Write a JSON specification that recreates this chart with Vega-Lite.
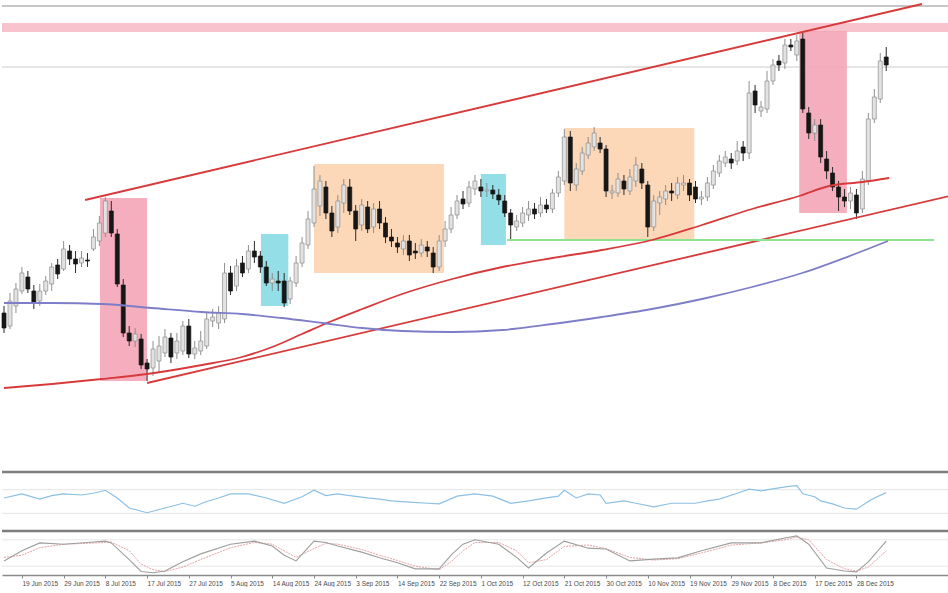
{
  "$schema": "https://vega.github.io/schema/vega-lite/v6.json",
  "padding": 0,
  "spacing": 0,
  "bounds": "flush",
  "background": "white",
  "config": {"view": {"stroke": null}, "font": "Liberation Sans", "scale": {"continuousPadding": 0}},
  "datasets": {
    "candles": [
      {"i":0,"o":4.688,"h":4.695,"l":4.668,"c":4.673},
      {"i":1,"o":4.675,"h":4.708,"l":4.672,"c":4.700},
      {"i":2,"o":4.695,"h":4.718,"l":4.688,"c":4.712},
      {"i":3,"o":4.710,"h":4.734,"l":4.707,"c":4.728},
      {"i":4,"o":4.724,"h":4.730,"l":4.708,"c":4.712},
      {"i":5,"o":4.710,"h":4.716,"l":4.692,"c":4.698},
      {"i":6,"o":4.700,"h":4.717,"l":4.695,"c":4.710},
      {"i":7,"o":4.710,"h":4.725,"l":4.706,"c":4.720},
      {"i":8,"o":4.717,"h":4.738,"l":4.710,"c":4.734},
      {"i":9,"o":4.736,"h":4.742,"l":4.722,"c":4.727},
      {"i":10,"o":4.732,"h":4.760,"l":4.730,"c":4.752},
      {"i":11,"o":4.750,"h":4.756,"l":4.736,"c":4.742},
      {"i":12,"o":4.742,"h":4.750,"l":4.728,"c":4.737},
      {"i":13,"o":4.738,"h":4.750,"l":4.734,"c":4.743},
      {"i":14,"o":4.741,"h":4.748,"l":4.734,"c":4.740},
      {"i":15,"o":4.752,"h":4.772,"l":4.750,"c":4.764},
      {"i":16,"o":4.760,"h":4.785,"l":4.755,"c":4.778},
      {"i":17,"o":4.768,"h":4.804,"l":4.764,"c":4.800},
      {"i":18,"o":4.790,"h":4.800,"l":4.764,"c":4.768},
      {"i":19,"o":4.767,"h":4.772,"l":4.714,"c":4.717},
      {"i":20,"o":4.716,"h":4.722,"l":4.664,"c":4.668},
      {"i":21,"o":4.668,"h":4.675,"l":4.655,"c":4.660},
      {"i":22,"o":4.660,"h":4.673,"l":4.654,"c":4.667},
      {"i":23,"o":4.662,"h":4.667,"l":4.632,"c":4.636},
      {"i":24,"o":4.638,"h":4.642,"l":4.620,"c":4.632},
      {"i":25,"o":4.633,"h":4.660,"l":4.625,"c":4.652},
      {"i":26,"o":4.640,"h":4.665,"l":4.628,"c":4.655},
      {"i":27,"o":4.648,"h":4.672,"l":4.644,"c":4.664},
      {"i":28,"o":4.663,"h":4.668,"l":4.638,"c":4.644},
      {"i":29,"o":4.648,"h":4.668,"l":4.642,"c":4.660},
      {"i":30,"o":4.650,"h":4.680,"l":4.646,"c":4.675},
      {"i":31,"o":4.675,"h":4.682,"l":4.643,"c":4.647},
      {"i":32,"o":4.647,"h":4.660,"l":4.642,"c":4.653},
      {"i":33,"o":4.650,"h":4.670,"l":4.646,"c":4.660},
      {"i":34,"o":4.655,"h":4.688,"l":4.652,"c":4.682},
      {"i":35,"o":4.680,"h":4.692,"l":4.674,"c":4.684},
      {"i":36,"o":4.678,"h":4.695,"l":4.672,"c":4.688},
      {"i":37,"o":4.682,"h":4.738,"l":4.678,"c":4.728},
      {"i":38,"o":4.728,"h":4.735,"l":4.706,"c":4.710},
      {"i":39,"o":4.715,"h":4.742,"l":4.710,"c":4.735},
      {"i":40,"o":4.738,"h":4.745,"l":4.724,"c":4.728},
      {"i":41,"o":4.732,"h":4.756,"l":4.728,"c":4.750},
      {"i":42,"o":4.750,"h":4.760,"l":4.738,"c":4.744},
      {"i":43,"o":4.745,"h":4.750,"l":4.728,"c":4.734},
      {"i":44,"o":4.734,"h":4.740,"l":4.715,"c":4.718},
      {"i":45,"o":4.718,"h":4.728,"l":4.710,"c":4.722},
      {"i":46,"o":4.720,"h":4.730,"l":4.710,"c":4.718},
      {"i":47,"o":4.720,"h":4.728,"l":4.694,"c":4.698},
      {"i":48,"o":4.702,"h":4.724,"l":4.697,"c":4.720},
      {"i":49,"o":4.718,"h":4.745,"l":4.714,"c":4.738},
      {"i":50,"o":4.738,"h":4.764,"l":4.734,"c":4.758},
      {"i":51,"o":4.756,"h":4.790,"l":4.752,"c":4.782},
      {"i":52,"o":4.778,"h":4.835,"l":4.774,"c":4.812},
      {"i":53,"o":4.795,"h":4.826,"l":4.785,"c":4.820},
      {"i":54,"o":4.814,"h":4.820,"l":4.782,"c":4.788},
      {"i":55,"o":4.788,"h":4.795,"l":4.764,"c":4.770},
      {"i":56,"o":4.774,"h":4.806,"l":4.768,"c":4.800},
      {"i":57,"o":4.798,"h":4.822,"l":4.788,"c":4.816},
      {"i":58,"o":4.814,"h":4.822,"l":4.786,"c":4.790},
      {"i":59,"o":4.790,"h":4.796,"l":4.760,"c":4.772},
      {"i":60,"o":4.776,"h":4.802,"l":4.770,"c":4.796},
      {"i":61,"o":4.794,"h":4.800,"l":4.768,"c":4.772},
      {"i":62,"o":4.774,"h":4.798,"l":4.768,"c":4.792},
      {"i":63,"o":4.792,"h":4.800,"l":4.772,"c":4.778},
      {"i":64,"o":4.778,"h":4.784,"l":4.758,"c":4.764},
      {"i":65,"o":4.764,"h":4.772,"l":4.754,"c":4.760},
      {"i":66,"o":4.758,"h":4.764,"l":4.748,"c":4.754},
      {"i":67,"o":4.752,"h":4.766,"l":4.746,"c":4.760},
      {"i":68,"o":4.760,"h":4.766,"l":4.740,"c":4.746},
      {"i":69,"o":4.750,"h":4.758,"l":4.742,"c":4.748},
      {"i":70,"o":4.748,"h":4.762,"l":4.744,"c":4.756},
      {"i":71,"o":4.754,"h":4.760,"l":4.744,"c":4.750},
      {"i":72,"o":4.748,"h":4.754,"l":4.728,"c":4.734},
      {"i":73,"o":4.734,"h":4.766,"l":4.730,"c":4.760},
      {"i":74,"o":4.760,"h":4.780,"l":4.754,"c":4.772},
      {"i":75,"o":4.772,"h":4.794,"l":4.768,"c":4.786},
      {"i":76,"o":4.786,"h":4.806,"l":4.782,"c":4.800},
      {"i":77,"o":4.802,"h":4.810,"l":4.792,"c":4.797},
      {"i":78,"o":4.798,"h":4.820,"l":4.794,"c":4.814},
      {"i":79,"o":4.812,"h":4.826,"l":4.806,"c":4.820},
      {"i":80,"o":4.814,"h":4.822,"l":4.804,"c":4.810},
      {"i":81,"o":4.810,"h":4.818,"l":4.804,"c":4.811},
      {"i":82,"o":4.811,"h":4.816,"l":4.802,"c":4.807},
      {"i":83,"o":4.806,"h":4.812,"l":4.796,"c":4.801},
      {"i":84,"o":4.800,"h":4.806,"l":4.784,"c":4.788},
      {"i":85,"o":4.788,"h":4.792,"l":4.762,"c":4.776},
      {"i":86,"o":4.774,"h":4.786,"l":4.770,"c":4.780},
      {"i":87,"o":4.778,"h":4.794,"l":4.774,"c":4.788},
      {"i":88,"o":4.786,"h":4.800,"l":4.780,"c":4.792},
      {"i":89,"o":4.792,"h":4.798,"l":4.782,"c":4.787},
      {"i":90,"o":4.788,"h":4.804,"l":4.784,"c":4.796},
      {"i":91,"o":4.796,"h":4.802,"l":4.788,"c":4.792},
      {"i":92,"o":4.792,"h":4.812,"l":4.788,"c":4.808},
      {"i":93,"o":4.808,"h":4.830,"l":4.804,"c":4.824},
      {"i":94,"o":4.820,"h":4.872,"l":4.816,"c":4.864},
      {"i":95,"o":4.864,"h":4.870,"l":4.810,"c":4.818},
      {"i":96,"o":4.816,"h":4.838,"l":4.810,"c":4.832},
      {"i":97,"o":4.830,"h":4.854,"l":4.826,"c":4.848},
      {"i":98,"o":4.846,"h":4.864,"l":4.842,"c":4.858},
      {"i":99,"o":4.854,"h":4.874,"l":4.850,"c":4.868},
      {"i":100,"o":4.858,"h":4.864,"l":4.848,"c":4.852},
      {"i":101,"o":4.852,"h":4.856,"l":4.804,"c":4.810},
      {"i":102,"o":4.808,"h":4.816,"l":4.802,"c":4.810},
      {"i":103,"o":4.808,"h":4.828,"l":4.804,"c":4.822},
      {"i":104,"o":4.820,"h":4.826,"l":4.806,"c":4.812},
      {"i":105,"o":4.810,"h":4.832,"l":4.806,"c":4.824},
      {"i":106,"o":4.820,"h":4.844,"l":4.814,"c":4.836},
      {"i":107,"o":4.832,"h":4.838,"l":4.812,"c":4.818},
      {"i":108,"o":4.816,"h":4.820,"l":4.764,"c":4.774},
      {"i":109,"o":4.774,"h":4.806,"l":4.770,"c":4.800},
      {"i":110,"o":4.798,"h":4.810,"l":4.786,"c":4.804},
      {"i":111,"o":4.802,"h":4.816,"l":4.796,"c":4.810},
      {"i":112,"o":4.810,"h":4.818,"l":4.800,"c":4.808},
      {"i":113,"o":4.806,"h":4.824,"l":4.802,"c":4.818},
      {"i":114,"o":4.816,"h":4.826,"l":4.810,"c":4.818},
      {"i":115,"o":4.818,"h":4.822,"l":4.800,"c":4.806},
      {"i":116,"o":4.814,"h":4.820,"l":4.798,"c":4.802},
      {"i":117,"o":4.802,"h":4.810,"l":4.796,"c":4.804},
      {"i":118,"o":4.804,"h":4.824,"l":4.800,"c":4.818},
      {"i":119,"o":4.816,"h":4.836,"l":4.812,"c":4.830},
      {"i":120,"o":4.828,"h":4.846,"l":4.824,"c":4.840},
      {"i":121,"o":4.838,"h":4.850,"l":4.834,"c":4.844},
      {"i":122,"o":4.842,"h":4.848,"l":4.832,"c":4.838},
      {"i":123,"o":4.840,"h":4.860,"l":4.836,"c":4.850},
      {"i":124,"o":4.854,"h":4.860,"l":4.840,"c":4.848},
      {"i":125,"o":4.848,"h":4.920,"l":4.842,"c":4.908},
      {"i":126,"o":4.910,"h":4.916,"l":4.888,"c":4.896},
      {"i":127,"o":4.890,"h":4.900,"l":4.884,"c":4.894},
      {"i":128,"o":4.892,"h":4.930,"l":4.888,"c":4.920},
      {"i":129,"o":4.920,"h":4.942,"l":4.916,"c":4.936},
      {"i":130,"o":4.940,"h":4.946,"l":4.930,"c":4.936},
      {"i":131,"o":4.938,"h":4.962,"l":4.932,"c":4.956},
      {"i":132,"o":4.956,"h":4.962,"l":4.950,"c":4.954},
      {"i":133,"o":4.946,"h":4.966,"l":4.940,"c":4.960},
      {"i":134,"o":4.962,"h":4.968,"l":4.888,"c":4.892},
      {"i":135,"o":4.888,"h":4.894,"l":4.862,"c":4.868},
      {"i":136,"o":4.868,"h":4.882,"l":4.860,"c":4.876},
      {"i":137,"o":4.876,"h":4.882,"l":4.838,"c":4.844},
      {"i":138,"o":4.842,"h":4.850,"l":4.822,"c":4.830},
      {"i":139,"o":4.828,"h":4.834,"l":4.810,"c":4.814},
      {"i":140,"o":4.814,"h":4.820,"l":4.790,"c":4.804},
      {"i":141,"o":4.804,"h":4.812,"l":4.794,"c":4.800},
      {"i":142,"o":4.800,"h":4.814,"l":4.792,"c":4.808},
      {"i":143,"o":4.806,"h":4.812,"l":4.782,"c":4.788},
      {"i":144,"o":4.792,"h":4.830,"l":4.788,"c":4.822},
      {"i":145,"o":4.820,"h":4.888,"l":4.816,"c":4.882},
      {"i":146,"o":4.882,"h":4.912,"l":4.878,"c":4.904},
      {"i":147,"o":4.902,"h":4.948,"l":4.898,"c":4.940},
      {"i":148,"o":4.944,"h":4.954,"l":4.930,"c":4.936}
    ],
    "bands": [{"top": 4.978, "bot": 4.969}],
    "hlines": [{"v": 4.995, "kind": "frame"}, {"v": 4.934, "kind": "level"}],
    "zones": [
      {"zone":"pink","x1":16.1,"x2":24.0,"top":4.803,"bot":4.620},
      {"zone":"pink","x1":133.4,"x2":141.4,"top":4.970,"bot":4.788},
      {"zone":"orange","x1":52.0,"x2":73.8,"top":4.837,"bot":4.728},
      {"zone":"orange","x1":94.0,"x2":115.8,"top":4.873,"bot":4.762},
      {"zone":"cyan","x1":43.1,"x2":47.7,"top":4.767,"bot":4.695},
      {"zone":"cyan","x1":80.0,"x2":84.2,"top":4.827,"bot":4.756}
    ],
    "lines": [
      {"name":"ch_up","i":13.6,"v":4.801},
      {"name":"ch_up","i":154.0,"v":4.997},
      {"name":"ch_lo","i":24.0,"v":4.618},
      {"name":"ch_lo","i":158.6,"v":4.805},
      {"name":"support","i":84.4,"v":4.761},
      {"name":"support","i":156.0,"v":4.761},
      {"name":"ma_red","i":0,"v":4.613},
      {"name":"ma_red","i":8.05,"v":4.617},
      {"name":"ma_red","i":16.4,"v":4.622},
      {"name":"ma_red","i":24.0,"v":4.627},
      {"name":"ma_red","i":33.2,"v":4.636},
      {"name":"ma_red","i":39.9,"v":4.644},
      {"name":"ma_red","i":45.0,"v":4.654},
      {"name":"ma_red","i":50.0,"v":4.667},
      {"name":"ma_red","i":55.0,"v":4.680},
      {"name":"ma_red","i":60.1,"v":4.692},
      {"name":"ma_red","i":66.8,"v":4.707},
      {"name":"ma_red","i":75.2,"v":4.722},
      {"name":"ma_red","i":83.6,"v":4.734},
      {"name":"ma_red","i":92.0,"v":4.743},
      {"name":"ma_red","i":100.3,"v":4.751},
      {"name":"ma_red","i":108.7,"v":4.761},
      {"name":"ma_red","i":117.1,"v":4.776},
      {"name":"ma_red","i":125.5,"v":4.792},
      {"name":"ma_red","i":133.4,"v":4.805},
      {"name":"ma_red","i":138.4,"v":4.815},
      {"name":"ma_red","i":144.0,"v":4.819},
      {"name":"ma_red","i":148.5,"v":4.823},
      {"name":"ma_blue","i":0,"v":4.698},
      {"name":"ma_blue","i":8.05,"v":4.698},
      {"name":"ma_blue","i":16.4,"v":4.697},
      {"name":"ma_blue","i":24.8,"v":4.693},
      {"name":"ma_blue","i":33.2,"v":4.689},
      {"name":"ma_blue","i":39.9,"v":4.687},
      {"name":"ma_blue","i":46.6,"v":4.683},
      {"name":"ma_blue","i":53.4,"v":4.678},
      {"name":"ma_blue","i":60.1,"v":4.673},
      {"name":"ma_blue","i":66.8,"v":4.670},
      {"name":"ma_blue","i":75.2,"v":4.669},
      {"name":"ma_blue","i":83.6,"v":4.671},
      {"name":"ma_blue","i":92.0,"v":4.677},
      {"name":"ma_blue","i":100.3,"v":4.684},
      {"name":"ma_blue","i":108.7,"v":4.692},
      {"name":"ma_blue","i":117.1,"v":4.702},
      {"name":"ma_blue","i":125.5,"v":4.714},
      {"name":"ma_blue","i":133.9,"v":4.728},
      {"name":"ma_blue","i":142.3,"v":4.746},
      {"name":"ma_blue","i":148.3,"v":4.760}
    ],
    "rsi": [
      {"i":0,"v":56},{"i":3,"v":63},{"i":6,"v":54},{"i":8,"v":60},{"i":10,"v":63},{"i":13,"v":61},
      {"i":15,"v":64},{"i":17,"v":69},{"i":19,"v":56},{"i":21,"v":39},{"i":24,"v":31},{"i":27,"v":39},
      {"i":30,"v":47},{"i":32,"v":42},{"i":34,"v":50},{"i":36,"v":56},{"i":38,"v":63},{"i":41,"v":63},
      {"i":44,"v":56},{"i":47,"v":47},{"i":50,"v":58},{"i":52,"v":69},{"i":54,"v":60},{"i":56,"v":63},
      {"i":58,"v":60},{"i":61,"v":56},{"i":63,"v":54},{"i":65,"v":51},{"i":68,"v":49},{"i":71,"v":47},
      {"i":73,"v":46},{"i":76,"v":59},{"i":79,"v":63},{"i":82,"v":59},{"i":85,"v":47},{"i":88,"v":51},
      {"i":91,"v":56},{"i":93,"v":59},{"i":94,"v":69},{"i":96,"v":56},{"i":98,"v":63},{"i":100,"v":61},
      {"i":101,"v":47},{"i":104,"v":51},{"i":106,"v":47},{"i":109,"v":41},{"i":112,"v":47},{"i":116,"v":47},
      {"i":118,"v":51},{"i":120,"v":54},{"i":123,"v":64},{"i":125,"v":71},{"i":127,"v":68},{"i":130,"v":73},
      {"i":132,"v":76},{"i":133,"v":77},{"i":134,"v":63},{"i":136,"v":58},{"i":137,"v":51},{"i":139,"v":46},
      {"i":141,"v":39},{"i":143,"v":37},{"i":145,"v":50},{"i":146,"v":56},{"i":148,"v":65}
    ],
    "stoch": [
      {"i":0,"k":32,"d":40},{"i":3,"k":55,"d":45},{"i":6,"k":73,"d":62},{"i":10,"k":70,"d":70},
      {"i":14,"k":74,"d":72},{"i":17,"k":77,"d":74},{"i":18,"k":73,"d":75},{"i":21,"k":35,"d":55},
      {"i":23,"k":8,"d":25},{"i":25,"k":5,"d":12},{"i":27,"k":9,"d":8},{"i":30,"k":30,"d":18},
      {"i":33,"k":48,"d":35},{"i":38,"k":70,"d":62},{"i":42,"k":77,"d":74},{"i":45,"k":66,"d":70},
      {"i":47,"k":45,"d":55},{"i":49,"k":32,"d":40},{"i":52,"k":77,"d":60},{"i":54,"k":74,"d":72},
      {"i":56,"k":66,"d":70},{"i":60,"k":52,"d":58},{"i":63,"k":39,"d":45},{"i":66,"k":28,"d":33},
      {"i":69,"k":14,"d":20},{"i":73,"k":14,"d":12},{"i":75,"k":45,"d":30},{"i":77,"k":70,"d":55},
      {"i":79,"k":80,"d":74},{"i":83,"k":70,"d":74},{"i":86,"k":40,"d":55},{"i":88,"k":16,"d":28},
      {"i":91,"k":50,"d":35},{"i":94,"k":77,"d":65},{"i":98,"k":61,"d":68},{"i":101,"k":59,"d":60},
      {"i":105,"k":32,"d":40},{"i":109,"k":36,"d":34},{"i":113,"k":39,"d":37},{"i":117,"k":55,"d":50},
      {"i":122,"k":73,"d":68},{"i":127,"k":73,"d":73},{"i":131,"k":84,"d":80},{"i":133,"k":89,"d":86},
      {"i":135,"k":70,"d":80},{"i":138,"k":16,"d":35},{"i":141,"k":9,"d":14},{"i":143,"k":7,"d":9},
      {"i":145,"k":30,"d":18},{"i":148,"k":77,"d":55}
    ],
    "rsiLevels": [{"v":70},{"v":30}],
    "stochLevels": [{"v":80},{"v":20}],
    "panelTop": [{"v":100}]
  },
  "vconcat": [
    {
      "width": 948,
      "height": 471,
      "resolve": {"scale": {"color": "independent", "strokeWidth": "independent"}},
      "layer": [
        {
          "data": {"name": "bands"},
          "mark": {"type": "rect", "color": "#f9c3ce"},
          "encoding": {
            "y": {"field": "top", "type": "quantitative", "scale": {"domain": [4.529, 5.0], "nice": false, "zero": false}, "axis": null},
            "y2": {"field": "bot"}
          }
        },
        {
          "data": {"name": "hlines"},
          "mark": {"type": "rule", "strokeWidth": 1.5},
          "encoding": {
            "y": {"field": "v", "type": "quantitative", "scale": {"domain": [4.529, 5.0], "nice": false, "zero": false}, "axis": null},
            "color": {"field": "kind", "type": "nominal", "scale": {"domain": ["frame", "level"], "range": ["#b5b5b5", "#dcdcdc"]}, "legend": null}
          }
        },
        {
          "data": {"name": "zones"},
          "mark": {"type": "rect", "opacity": 0.9},
          "encoding": {
            "x": {"field": "x1", "type": "quantitative", "scale": {"domain": [-0.34, 158.7], "nice": false, "zero": false, "padding": 0}, "axis": null},
            "x2": {"field": "x2"},
            "y": {"field": "top", "type": "quantitative", "scale": {"domain": [4.529, 5.0], "nice": false, "zero": false}, "axis": null},
            "y2": {"field": "bot"},
            "color": {"field": "zone", "type": "nominal", "scale": {"domain": ["pink", "orange", "cyan"], "range": ["#f4a5b6", "#fcd4b1", "#88dbe4"]}, "legend": null}
          }
        },
        {
          "data": {"name": "candles"},
          "mark": {"type": "rule", "strokeWidth": 1},
          "encoding": {
            "x": {"field": "i", "type": "quantitative", "scale": {"domain": [-0.34, 158.7], "nice": false, "zero": false, "padding": 0}, "axis": null},
            "y": {"field": "l", "type": "quantitative", "scale": {"domain": [4.529, 5.0], "nice": false, "zero": false}, "axis": null},
            "y2": {"field": "h"},
            "stroke": {"condition": {"test": "datum.c > datum.o", "value": "#8e8e8e"}, "value": "#2a2a2a"}
          }
        },
        {
          "data": {"name": "candles"},
          "mark": {"type": "bar", "size": 4, "strokeWidth": 0.7},
          "encoding": {
            "x": {"field": "i", "type": "quantitative", "scale": {"domain": [-0.34, 158.7], "nice": false, "zero": false, "padding": 0}, "axis": null},
            "y": {"field": "o", "type": "quantitative", "scale": {"domain": [4.529, 5.0], "nice": false, "zero": false}, "axis": null},
            "y2": {"field": "c"},
            "fill": {"condition": {"test": "datum.c > datum.o", "value": "#e2e2e2"}, "value": "#161616"},
            "stroke": {"condition": {"test": "datum.c > datum.o", "value": "#8e8e8e"}, "value": "#161616"}
          }
        },
        {
          "data": {"name": "lines"},
          "mark": {"type": "line", "interpolate": "monotone"},
          "encoding": {
            "x": {"field": "i", "type": "quantitative", "scale": {"domain": [-0.34, 158.7], "nice": false, "zero": false, "padding": 0}, "axis": null},
            "y": {"field": "v", "type": "quantitative", "scale": {"domain": [4.529, 5.0], "nice": false, "zero": false}, "axis": null},
            "color": {"field": "name", "type": "nominal", "scale": {"domain": ["ch_up", "ch_lo", "ma_red", "ma_blue", "support"], "range": ["#d73a3a", "#d73a3a", "#d73a3a", "#7e7ec8", "#8ee38e"]}, "legend": null},
            "strokeWidth": {"field": "name", "type": "nominal", "scale": {"domain": ["ch_up", "ch_lo", "ma_red", "ma_blue", "support"], "range": [1.8, 1.8, 1.8, 1.3, 2.5]}, "legend": null}
          }
        }
      ]
    },
    {
      "width": 948,
      "height": 59,
      "layer": [
        {
          "data": {"name": "rsiLevels"},
          "mark": {"type": "rule", "color": "#e4e4e4", "strokeWidth": 1},
          "encoding": {"y": {"field": "v", "type": "quantitative", "scale": {"domain": [0, 100], "nice": false}, "axis": null}}
        },
        {
          "data": {"name": "panelTop"},
          "mark": {"type": "rule", "color": "#7d7d7d", "strokeWidth": 2.5},
          "encoding": {"y": {"field": "v", "type": "quantitative", "scale": {"domain": [0, 100], "nice": false}, "axis": null}}
        },
        {
          "data": {"name": "rsi"},
          "mark": {"type": "line", "color": "#8cc0e4", "strokeWidth": 1.2},
          "encoding": {
            "x": {"field": "i", "type": "quantitative", "scale": {"domain": [-0.34, 158.7], "nice": false, "zero": false, "padding": 0}, "axis": null},
            "y": {"field": "v", "type": "quantitative", "scale": {"domain": [0, 100], "nice": false}, "axis": null}
          }
        }
      ]
    },
    {
      "width": 948,
      "height": 44,
      "layer": [
        {
          "data": {"name": "stochLevels"},
          "mark": {"type": "rule", "color": "#e6e6e6", "strokeWidth": 1},
          "encoding": {"y": {"field": "v", "type": "quantitative", "scale": {"domain": [0, 100], "nice": false}, "axis": null}}
        },
        {
          "data": {"name": "panelTop"},
          "mark": {"type": "rule", "color": "#7d7d7d", "strokeWidth": 2.5},
          "encoding": {"y": {"field": "v", "type": "quantitative", "scale": {"domain": [0, 100], "nice": false}, "axis": null}}
        },
        {
          "data": {"name": "stoch"},
          "mark": {"type": "line", "color": "#e6a2a2", "strokeWidth": 1, "strokeDash": [2, 1]},
          "encoding": {
            "x": {
              "field": "i",
              "type": "quantitative",
              "scale": {"domain": [-0.34, 158.7], "nice": false, "zero": false, "padding": 0},
              "axis": {
                "values": [3, 10, 17, 24, 31, 38, 45, 52, 59, 66, 73, 80, 87, 94, 101, 108, 115, 122, 129, 136, 143],
                "labelExpr": "['19 Jun 2015','29 Jun 2015','8 Jul 2015','17 Jul 2015','27 Jul 2015','5 Aug 2015','14 Aug 2015','24 Aug 2015','3 Sep 2015','14 Sep 2015','22 Sep 2015','1 Oct 2015','12 Oct 2015','21 Oct 2015','30 Oct 2015','10 Nov 2015','19 Nov 2015','29 Nov 2015','8 Dec 2015','17 Dec 2015','28 Dec 2015'][round((datum.value - 3) / 7)]",
                "labelAlign": "left",
                "labelFont": "Liberation Sans",
                "labelFontSize": 6.5,
                "labelColor": "#4a4a4a",
                "labelPadding": 2,
                "labelOverlap": false,
                "labelFlush": false,
                "labelBound": false,
                "tickSize": 3,
                "tickColor": "#8a8a8a",
                "domainColor": "#8a8a8a",
                "domainWidth": 1.5,
                "grid": false,
                "title": null
              }
            },
            "y": {"field": "d", "type": "quantitative", "scale": {"domain": [0, 100], "nice": false}, "axis": null}
          }
        },
        {
          "data": {"name": "stoch"},
          "mark": {"type": "line", "color": "#9e9e9e", "strokeWidth": 1.1},
          "encoding": {
            "x": {
              "field": "i",
              "type": "quantitative",
              "scale": {"domain": [-0.34, 158.7], "nice": false, "zero": false, "padding": 0},
              "axis": {
                "values": [3, 10, 17, 24, 31, 38, 45, 52, 59, 66, 73, 80, 87, 94, 101, 108, 115, 122, 129, 136, 143],
                "labelExpr": "['19 Jun 2015','29 Jun 2015','8 Jul 2015','17 Jul 2015','27 Jul 2015','5 Aug 2015','14 Aug 2015','24 Aug 2015','3 Sep 2015','14 Sep 2015','22 Sep 2015','1 Oct 2015','12 Oct 2015','21 Oct 2015','30 Oct 2015','10 Nov 2015','19 Nov 2015','29 Nov 2015','8 Dec 2015','17 Dec 2015','28 Dec 2015'][round((datum.value - 3) / 7)]",
                "labelAlign": "left",
                "labelFont": "Liberation Sans",
                "labelFontSize": 6.5,
                "labelColor": "#4a4a4a",
                "labelPadding": 2,
                "labelOverlap": false,
                "labelFlush": false,
                "labelBound": false,
                "tickSize": 3,
                "tickColor": "#8a8a8a",
                "domainColor": "#8a8a8a",
                "domainWidth": 1.5,
                "grid": false,
                "title": null
              }
            },
            "y": {"field": "k", "type": "quantitative", "scale": {"domain": [0, 100], "nice": false}, "axis": null}
          }
        }
      ]
    }
  ]
}
